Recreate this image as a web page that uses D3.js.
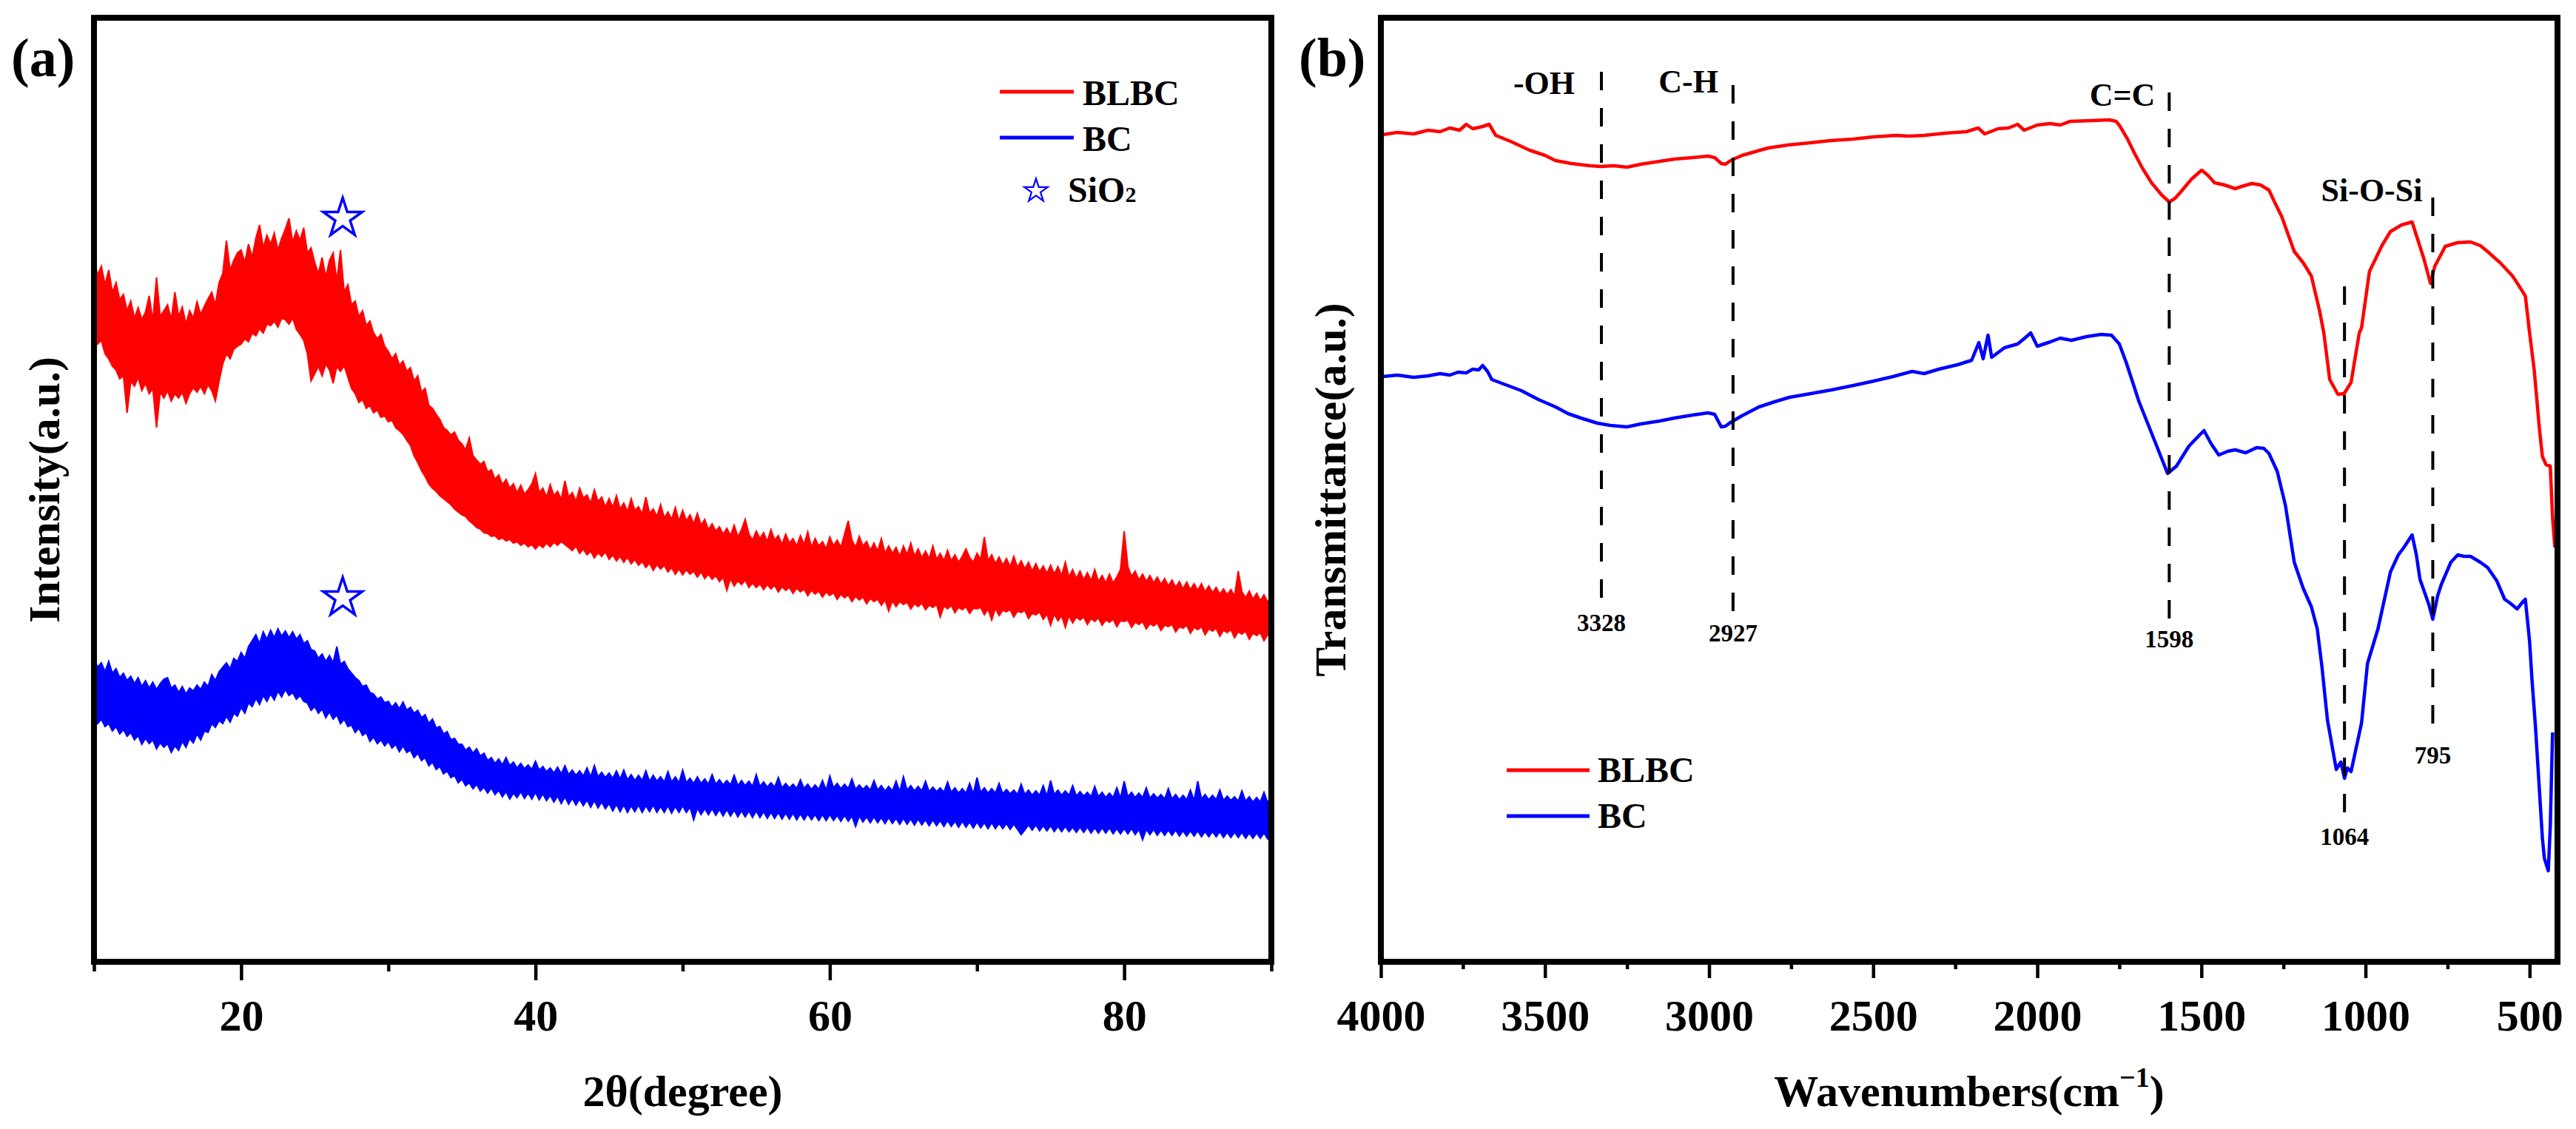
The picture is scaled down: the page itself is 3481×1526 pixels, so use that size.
<!DOCTYPE html>
<html>
<head>
<meta charset="utf-8">
<script src="https://cdn.jsdelivr.net/npm/d3@7"></script>
<style>
  body { margin: 0; background: #fff; }
  svg { display: block; }
  text { font-family: "Liberation Serif", "Times New Roman", serif; font-weight: bold; fill: #000; }
</style>
</head>
<body>
<svg id="chart" width="3481" height="1526"></svg>
<script>
// ---------- data ----------
// XRD: 2theta sampled every 0.25 deg, upper / lower edge of the noisy trace (a.u.)
const xrdAngles = d3.range(10, 90.125, 0.25);
const xrdTicks = [20, 40, 60, 80];
const xrdMinorTicks = [10, 30, 50, 70, 90];

const blbcXrdHigh = [
  950, 928, 940, 915, 935, 905, 918, 895, 902, 880, 893, 870, 884, 868, 878, 900, 866, 925, 872, 880,
  888, 868, 905, 872, 885, 862, 880, 870, 892, 875, 886, 896, 905, 888, 918, 930, 975, 935, 948, 958,
  962, 945, 970, 952, 978, 996, 965, 982, 970, 985, 962, 978, 990, 1005, 972, 988, 975, 992, 958, 965,
  945, 930, 952, 925, 948, 958, 920, 962, 905, 915, 888, 893, 872, 880, 860, 866, 850, 842, 848, 832,
  825, 815, 822, 806, 812, 798, 803, 785, 792, 770, 775, 752, 748, 740, 733, 722, 718, 712, 716, 705,
  700, 692, 708, 684, 678, 672, 676, 662, 665, 652, 658, 645, 652, 640, 646, 634, 644, 632, 638, 646,
  660, 634, 640, 628, 645, 630, 636, 625, 650, 628, 634, 622, 640, 627, 631, 620, 638, 622, 628, 615,
  626, 614, 630, 612, 620, 608, 626, 610, 615, 605, 628, 606, 612, 602, 618, 600, 608, 598, 614, 596,
  610, 596, 604, 592, 606, 590, 598, 584, 592, 582, 588, 578, 586, 576, 590, 574, 584, 598, 578, 570,
  582, 572, 580, 568, 584, 570, 576, 564, 578, 566, 572, 562, 576, 564, 581, 560, 572, 562, 568, 558,
  574, 562, 570, 560, 578, 596, 570, 560, 575, 562, 568, 556, 566, 555, 572, 552, 562, 552, 560, 548,
  562, 550, 566, 548, 558, 546, 555, 545, 562, 544, 552, 542, 556, 542, 550, 540, 548, 558, 546, 540,
  552, 544, 574, 542, 550, 538, 547, 536, 545, 534, 548, 533, 542, 531, 540, 528, 538, 527, 535, 525,
  536, 524, 534, 522, 540, 520, 530, 518, 528, 516, 526, 515, 530, 514, 522, 512, 524, 512, 520, 530,
  582, 534, 521, 528, 516, 524, 514, 522, 512, 520, 510, 518, 508, 516, 506, 514, 504, 513, 503, 511,
  502, 511, 500, 508, 499, 506, 497, 504, 496, 503, 494, 528, 500, 492, 501, 490, 498, 488, 496, 486,
  494
];
const blbcXrdLow = [
  848, 835, 840, 822, 815, 805, 800, 788, 792, 742, 785, 778, 790, 772, 782, 768, 775, 722, 770, 762,
  772, 758, 768, 762, 770, 755, 768, 776, 770, 778, 768, 780, 772, 758, 785, 808, 822, 815, 828, 832,
  835, 842, 838, 850, 846, 856, 850, 862, 860, 866, 858, 870, 868, 862, 870, 855, 848, 840, 822, 785,
  795, 805, 792, 808, 800, 782, 805, 798, 806, 790, 775, 768, 756, 760, 748, 752, 742, 746, 736, 738,
  730, 732, 722, 718, 713, 705, 698, 684, 675, 664, 656, 646, 640, 636, 630, 626, 622, 618, 612, 608,
  604, 602, 596, 592, 587, 585, 580, 579, 575, 576, 571, 573, 569, 571, 566, 568, 563, 566, 561, 564,
  558, 564, 560, 566, 561, 567, 563, 568, 564, 560, 556, 562, 552, 558, 550, 555, 546, 553, 548, 554,
  544, 550, 542, 548, 540, 547, 538, 544, 536, 541, 533, 539, 529, 537, 531, 536, 527, 533, 524, 531,
  523, 530, 524, 528, 520, 527, 518, 524, 517, 522, 514, 520, 502, 518, 508, 515, 510, 516, 506, 512,
  506, 511, 503, 510, 504, 509, 500, 507, 502, 506, 498, 505, 500, 504, 495, 502, 497, 501, 493, 500,
  495, 499, 490, 497, 492, 496, 487, 494, 489, 493, 484, 491, 487, 490, 482, 489, 474, 488, 480, 487,
  483, 486, 477, 484, 480, 485, 476, 482, 479, 483, 466, 481, 477, 482, 472, 479, 476, 480, 471, 478,
  477, 479, 469, 477, 462, 478, 468, 475, 473, 476, 466, 474, 472, 475, 464, 471, 469, 473, 463, 470,
  455, 470, 461, 468, 452, 468, 458, 466, 462, 466, 456, 464, 460, 465, 455, 462, 459, 463, 453, 461,
  460, 462, 452, 459, 456, 460, 450, 457, 454, 458, 448, 455, 453, 456, 446, 453, 451, 455, 444, 452,
  449, 453, 442, 450, 447, 451, 440, 448, 445, 449, 438, 446, 443, 447, 436, 444, 441, 445, 434, 442,
  438
];
const bcXrdHigh = [
  412, 398, 404, 392, 406, 390, 396, 384, 390, 380, 386, 376, 384, 372, 380, 370, 378, 368, 376, 382,
  384, 370, 374, 364, 372, 362, 370, 366, 374, 368, 378, 372, 388, 380, 392, 398, 404, 396, 410, 406,
  418, 410, 426, 434, 442, 430, 446, 436, 448, 438, 450, 440, 447, 438, 446, 436, 442, 430, 434, 422,
  420, 410, 416, 406, 414, 404, 426, 402, 406, 396, 390, 384, 380, 372, 374, 364, 362, 355, 358, 350,
  352, 344, 350, 342, 351, 340, 344, 336, 340, 330, 334, 322, 328, 316, 318, 308, 311, 300, 302, 294,
  294, 286, 290, 282, 288, 278, 282, 272, 276, 268, 274, 266, 276, 265, 270, 262, 268, 261, 266, 260,
  271, 259, 264, 257, 262, 255, 263, 254, 265, 253, 259, 252, 258, 251, 262, 250, 265, 250, 256, 249,
  255, 248, 258, 247, 259, 246, 253, 245, 252, 245, 258, 244, 252, 244, 250, 243, 257, 243, 250, 242,
  259, 242, 248, 241, 250, 241, 247, 240, 253, 240, 246, 239, 245, 239, 252, 238, 245, 238, 244, 237,
  253, 237, 243, 236, 242, 236, 249, 235, 241, 235, 240, 234, 246, 234, 240, 233, 239, 233, 245, 232,
  251, 235, 241, 234, 240, 234, 247, 233, 239, 233, 238, 232, 245, 232, 238, 231, 237, 231, 244, 230,
  250, 232, 238, 231, 237, 231, 244, 230, 236, 230, 235, 229, 243, 229, 235, 228, 234, 228, 241, 227,
  249, 229, 235, 228, 234, 228, 241, 227, 233, 227, 232, 226, 240, 226, 232, 225, 231, 225, 238, 224,
  245, 226, 232, 225, 231, 225, 238, 224, 230, 224, 229, 223, 237, 223, 229, 222, 228, 222, 235, 221,
  244, 223, 229, 222, 228, 222, 235, 221, 227, 221, 226, 220, 234, 220, 226, 219, 225, 219, 232, 218,
  244, 220, 226, 219, 225, 219, 232, 218, 224, 218, 223, 217, 231, 217, 223, 216, 222, 216, 229, 215,
  225
];
const bcXrdLow = [
  330, 322, 328, 318, 322, 312, 318, 308, 314, 305, 310, 300, 306, 294, 302, 295, 300, 288, 296, 290,
  295, 283, 292, 286, 298, 290, 302, 296, 308, 300, 312, 310, 322, 317, 326, 322, 332, 324, 336, 332,
  344, 336, 350, 345, 356, 348, 360, 352, 362, 354, 366, 358, 368, 360, 364, 355, 360, 352, 350, 340,
  345, 336, 342, 330, 338, 328, 334, 322, 328, 318, 320, 310, 316, 306, 310, 298, 304, 295, 300, 292,
  298, 289, 294, 284, 292, 283, 286, 276, 282, 272, 276, 265, 270, 260, 264, 254, 258, 249, 252, 242,
  247, 238, 242, 234, 240, 231, 236, 228, 235, 226, 232, 223, 230, 220, 228, 222, 230, 221, 228, 220,
  229, 219, 227, 218, 225, 216, 224, 214, 223, 213, 221, 212, 220, 211, 219, 209, 218, 208, 216, 207,
  214, 204, 213, 203, 212, 202, 211, 203, 212, 202, 211, 203, 212, 202, 210, 202, 211, 201, 210, 202,
  211, 202, 209, 192, 208, 199, 207, 199, 207, 198, 206, 197, 206, 197, 205, 196, 204, 196, 204, 195,
  204, 195, 203, 194, 202, 194, 202, 193, 201, 193, 201, 192, 200, 192, 200, 192, 199, 191, 199, 191,
  199, 191, 198, 190, 198, 190, 197, 183, 197, 189, 196, 188, 196, 188, 195, 187, 195, 187, 194, 186,
  194, 186, 193, 185, 193, 185, 192, 184, 192, 184, 191, 183, 191, 183, 190, 182, 190, 182, 189, 181,
  189, 181, 188, 180, 188, 180, 187, 180, 187, 179, 186, 179, 172, 178, 185, 178, 185, 177, 184, 177,
  184, 176, 183, 176, 183, 176, 182, 175, 182, 175, 182, 174, 181, 174, 181, 174, 181, 173, 180, 173,
  180, 173, 180, 172, 179, 165, 179, 172, 179, 171, 178, 171, 178, 171, 178, 170, 177, 170, 177, 170,
  177, 169, 176, 169, 176, 169, 176, 168, 175, 168, 175, 168, 175, 167, 174, 167, 174, 167, 174, 166,
  173
];
// SiO2 reflections marked with a star (2theta, height a.u.)
const sio2Marks = [[26.9, 1005], [26.9, 492]];

// FTIR: [wavenumber, transmittance a.u.]
const ftirTicks = [4000, 3500, 3000, 2500, 2000, 1500, 1000, 500];
const ftirMinorTicks = [3750, 3250, 2750, 2250, 1750, 1250, 750];
const blbcFtir = [
  [3995, 1118], [3950, 1121], [3900, 1119], [3856, 1124], [3820, 1122], [3790, 1127],
  [3760, 1124], [3740, 1132], [3720, 1126], [3690, 1129], [3670, 1132], [3650, 1117],
  [3600, 1108], [3547, 1097], [3500, 1090], [3468, 1083], [3420, 1079], [3364, 1076],
  [3330, 1075], [3290, 1076], [3250, 1074], [3208, 1078], [3150, 1082], [3105, 1085],
  [3050, 1087], [3003, 1089], [2983, 1087], [2963, 1079], [2950, 1078], [2938, 1082],
  [2920, 1086], [2899, 1090], [2860, 1095], [2820, 1100], [2760, 1104], [2692, 1107],
  [2630, 1110], [2561, 1112], [2500, 1115], [2432, 1117], [2390, 1116], [2345, 1117],
  [2280, 1120], [2216, 1122], [2180, 1127], [2160, 1119], [2120, 1126], [2088, 1127],
  [2060, 1132], [2040, 1124], [2000, 1131], [1961, 1133], [1930, 1131], [1900, 1136],
  [1833, 1137], [1781, 1138], [1760, 1136], [1749, 1130], [1725, 1112], [1704, 1093],
  [1680, 1073], [1652, 1053], [1620, 1036], [1598, 1027], [1580, 1032], [1564, 1040],
  [1530, 1058], [1499, 1070], [1480, 1063], [1460, 1053], [1430, 1050], [1397, 1045],
  [1370, 1049], [1346, 1052], [1320, 1050], [1294, 1043], [1275, 1025], [1255, 1007],
  [1217, 960], [1190, 945], [1165, 927], [1140, 880], [1127, 850], [1109, 787],
  [1084, 767], [1065, 768], [1044, 783], [1019, 850], [1012, 857], [988, 933],
  [950, 968], [924, 987], [890, 996], [858, 1000], [840, 975], [822, 950],
  [802, 917], [789, 940], [757, 967], [720, 972], [680, 973], [650, 968],
  [628, 960], [590, 945], [552, 927], [530, 912], [513, 900], [500, 850],
  [486, 800], [470, 720], [461, 683], [450, 672], [437, 670], [430, 600], [423, 560]
];
const bcFtir = [
  [3995, 791], [3950, 793], [3900, 790], [3856, 792], [3820, 795], [3790, 793],
  [3765, 797], [3740, 796], [3720, 801], [3702, 800], [3690, 806], [3675, 798],
  [3662, 787], [3620, 780], [3572, 772], [3520, 760], [3468, 750], [3430, 741],
  [3391, 735], [3340, 728], [3301, 725], [3250, 723], [3208, 727], [3150, 731],
  [3105, 735], [3050, 739], [3003, 742], [2983, 740], [2963, 723], [2950, 724],
  [2938, 728], [2900, 738], [2848, 750], [2800, 757], [2755, 763], [2690, 768],
  [2627, 773], [2560, 779], [2498, 785], [2440, 791], [2381, 798], [2345, 795],
  [2300, 801], [2243, 807], [2200, 813], [2178, 837], [2165, 815], [2150, 847],
  [2139, 817], [2100, 830], [2060, 835], [2038, 843], [2020, 850], [2000, 832],
  [1960, 838], [1930, 843], [1896, 840], [1850, 845], [1806, 848], [1774, 847],
  [1750, 835], [1729, 810], [1690, 757], [1645, 707], [1603, 660], [1576, 670],
  [1538, 697], [1510, 710], [1492, 718], [1470, 700], [1447, 685], [1420, 690],
  [1397, 692], [1365, 688], [1332, 695], [1310, 694], [1294, 687], [1269, 663],
  [1244, 617], [1217, 540], [1190, 505], [1165, 480], [1147, 450], [1133, 400],
  [1116, 327], [1089, 260], [1075, 270], [1064, 248], [1055, 262], [1044, 257],
  [1012, 323], [994, 403], [962, 450], [924, 527], [900, 550], [883, 560],
  [858, 577], [845, 550], [834, 517], [807, 483], [795, 463], [780, 495],
  [769, 510], [740, 540], [719, 550], [700, 548], [680, 548], [650, 540],
  [628, 533], [600, 515], [576, 490], [560, 485], [538, 477], [520, 487],
  [513, 490], [500, 433], [493, 383], [482, 317], [461, 167], [455, 140],
  [443, 123], [437, 183], [430, 310]
];

// ---------- layout ----------
const svg = d3.select('#chart');
const plotTop = 24, plotBottom = 1300;
const red = '#ff0000', blue = '#0000ff';

const xA = d3.scaleLinear().domain([10, 90]).range([127, 1718]);
const xB = d3.scaleLinear().domain([4000, 415]).range([1866, 3456]);
const y = d3.scaleLinear().domain([0, 1276]).range([plotBottom, plotTop]);

const defs = svg.append('defs');
[['clipA', xA], ['clipB', xB]].forEach(([id, sc]) => {
  const r = sc.range();
  defs.append('clipPath').attr('id', id).append('rect')
    .attr('x', Math.min(r[0], r[1])).attr('y', plotTop)
    .attr('width', Math.abs(r[1] - r[0])).attr('height', plotBottom - plotTop);
});

// ---------- panel (a): XRD ----------
const gA = svg.append('g').attr('clip-path', 'url(#clipA)');
const xrdArea = d3.area()
  .x(d => xA(d.a))
  .y0(d => y(d.lo))
  .y1(d => y(d.hi));

const xrdSeries = [
  { color: red, hi: blbcXrdHigh, lo: blbcXrdLow },
  { color: blue, hi: bcXrdHigh, lo: bcXrdLow }
];
xrdSeries.forEach(s => {
  const n = Math.min(xrdAngles.length, s.hi.length, s.lo.length);
  const rows = xrdAngles.slice(0, n).map((a, i) => ({ a: a, hi: s.hi[i], lo: s.lo[i] }));
  gA.append('path')
    .datum(rows)
    .attr('d', xrdArea)
    .attr('fill', s.color)
    .attr('stroke', s.color)
    .attr('stroke-width', 2)
    .attr('stroke-linejoin', 'miter');
});

const star = d3.symbol().type(d3.symbolStar);
svg.selectAll('.sio2').data(sio2Marks).enter()
  .append('path')
  .attr('class', 'sio2')
  .attr('d', star.size(860))
  .attr('transform', d => `translate(${xA(d[0])},${y(d[1])})`)
  .attr('fill', '#fff')
  .attr('stroke', blue)
  .attr('stroke-width', 3.5);

// ---------- panel (b): FTIR ----------
const gB = svg.append('g').attr('clip-path', 'url(#clipB)');

// dashed band markers
const markers = [
  { w: 3328, top: 1203, bot: 483, num: 447 },
  { w: 2927, top: 1185, bot: 467, num: 433 },
  { w: 1598, top: 1175, bot: 457, num: 425 },
  { w: 1064, top: 913, bot: 193, num: 158 },
  { w: 795, top: 1033, bot: 313, num: 268 }
];
svg.selectAll('.peak').data(markers).enter()
  .append('line')
  .attr('class', 'peak')
  .attr('x1', d => xB(d.w)).attr('x2', d => xB(d.w))
  .attr('y1', d => y(d.top)).attr('y2', d => y(d.bot))
  .attr('stroke', '#000')
  .attr('stroke-width', 4)
  .attr('stroke-dasharray', '25,24');

svg.selectAll('.peaknum').data(markers).enter()
  .append('text')
  .attr('class', 'peaknum')
  .attr('x', d => xB(d.w))
  .attr('y', d => y(d.num))
  .attr('text-anchor', 'middle')
  .attr('font-size', 33)
  .text(d => d.w);

const groups = [
  { label: '-OH', w: 3328, h: 1173, gap: 36 },
  { label: 'C-H', w: 2927, h: 1175, gap: 20 },
  { label: 'C=C', w: 1598, h: 1157, gap: 19 },
  { label: 'Si-O-Si', w: 795, h: 1028, gap: 14 }
];
svg.selectAll('.grp').data(groups).enter()
  .append('text')
  .attr('class', 'grp')
  .attr('x', d => xB(d.w) - d.gap)
  .attr('y', d => y(d.h))
  .attr('text-anchor', 'end')
  .attr('font-size', 44)
  .text(d => d.label);

const ftirLine = d3.line().x(d => xB(d[0])).y(d => y(d[1]));
[[blbcFtir, red], [bcFtir, blue]].forEach(([data, color]) => {
  gB.append('path')
    .datum(data)
    .attr('d', ftirLine)
    .attr('fill', 'none')
    .attr('stroke', color)
    .attr('stroke-width', 4.5)
    .attr('stroke-linejoin', 'round');
});

// ---------- frames & axes ----------
function frame(sc) {
  const r = sc.range();
  svg.append('rect')
    .attr('x', Math.min(r[0], r[1])).attr('y', plotTop)
    .attr('width', Math.abs(r[1] - r[0])).attr('height', plotBottom - plotTop)
    .attr('fill', 'none').attr('stroke', '#000').attr('stroke-width', 8);
}
frame(xA);
frame(xB);

function bottomAxis(sc, major, minor, majorLen, minorLen) {
  const gMinor = svg.append('g')
    .attr('transform', `translate(0,${plotBottom})`)
    .call(d3.axisBottom(sc).tickValues(minor).tickSize(minorLen).tickFormat(''));
  const gMajor = svg.append('g')
    .attr('transform', `translate(0,${plotBottom})`)
    .call(d3.axisBottom(sc).tickValues(major).tickSize(majorLen)
      .tickPadding(50 - majorLen).tickFormat(d3.format('d')));
  [gMinor, gMajor].forEach(g => {
    g.select('.domain').remove();
    g.selectAll('line').attr('stroke', '#000').attr('stroke-width', 4.5);
  });
  gMajor.attr('font-size', 60);
  gMajor.selectAll('text').attr('fill', '#000');
}
bottomAxis(xA, xrdTicks, xrdMinorTicks, 25, 13);
bottomAxis(xB, ftirTicks, ftirMinorTicks, 22, 10);

// ---------- titles ----------
svg.append('text').attr('x', 15).attr('y', 103).attr('font-size', 74).text('(a)');
svg.append('text').attr('x', 1755).attr('y', 103).attr('font-size', 74).text('(b)');

svg.append('text')
  .attr('x', d3.mean(xA.range())).attr('y', 1495)
  .attr('text-anchor', 'middle').attr('font-size', 60)
  .text('2θ(degree)');

const wt = svg.append('text')
  .attr('x', d3.mean(xB.range())).attr('y', 1495)
  .attr('text-anchor', 'middle').attr('font-size', 60);
wt.append('tspan').text('Wavenumbers(cm');
wt.append('tspan').attr('font-size', 38).attr('dy', -26).text('−1');
wt.append('tspan').attr('dy', 26).text(')');

svg.append('text')
  .attr('transform', `translate(80,${(plotTop + plotBottom) / 2}) rotate(-90)`)
  .attr('text-anchor', 'middle').attr('font-size', 60)
  .text('Intensity(a.u.)');
svg.append('text')
  .attr('transform', `translate(1818,${(plotTop + plotBottom) / 2}) rotate(-90)`)
  .attr('text-anchor', 'middle').attr('font-size', 60)
  .text('Transmittance(a.u.)');

// ---------- legends ----------
const legendA = svg.append('g');
[['BLBC', red, 124], ['BC', blue, 186]].forEach(([name, color, ly]) => {
  legendA.append('line').attr('x1', 1351).attr('x2', 1451).attr('y1', ly).attr('y2', ly)
    .attr('stroke', color).attr('stroke-width', 5);
  legendA.append('text').attr('x', 1463).attr('y', ly + 18).attr('font-size', 48).text(name);
});
legendA.append('path')
  .attr('d', d3.symbol().type(d3.symbolStar).size(310)())
  .attr('transform', 'translate(1400,258)')
  .attr('fill', '#fff').attr('stroke', blue).attr('stroke-width', 2.2);
const sio = legendA.append('text').attr('x', 1443).attr('y', 273).attr('font-size', 48);
sio.append('tspan').text('SiO');
sio.append('tspan').attr('font-size', 30).text('2');

const legendB = svg.append('g');
[['BLBC', red, 1041], ['BC', blue, 1103]].forEach(([name, color, ly]) => {
  legendB.append('line').attr('x1', 2036).attr('x2', 2148).attr('y1', ly).attr('y2', ly)
    .attr('stroke', color).attr('stroke-width', 5);
  legendB.append('text').attr('x', 2159).attr('y', ly + 16).attr('font-size', 48).text(name);
});
</script>
</body>
</html>
